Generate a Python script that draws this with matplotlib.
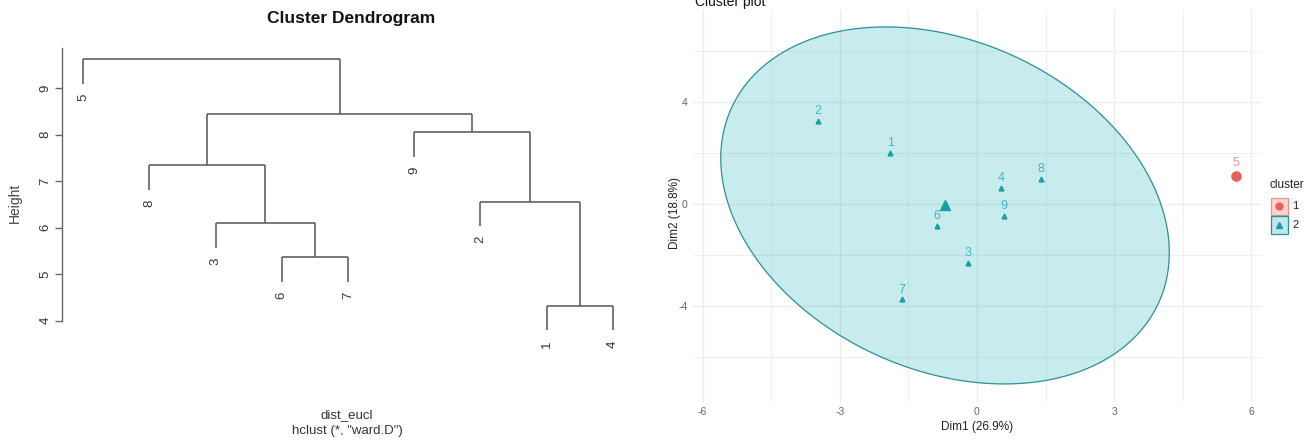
import numpy as np
import matplotlib
matplotlib.use("Agg")
import matplotlib.pyplot as plt
from matplotlib.patches import Rectangle, Polygon

plt.rcParams['font.family'] = ['Liberation Sans', 'DejaVu Sans']
plt.rcParams['axes.unicode_minus'] = False

# ---------------- data ----------------
# Dendrogram (hclust ward.D on dist_eucl)
leaf_order = ['5', '8', '3', '6', '7', '9', '2', '1', '4']
# merges: (left, right, height); str = leaf label, int = index of earlier merge
merge_left = ['1', '6', '3', '2', '8', '9', 4, '5']
merge_right = ['4', '7', 1, 0, 2, 3, 5, 6]
merge_height = [4.32, 5.37, 6.09, 6.56, 7.35, 8.05, 8.44, 9.62]
y_ticks = [4, 5, 6, 7, 8, 9]

# Cluster plot (PCA coordinates)
obs_labels = ['1', '2', '3', '4', '5', '6', '7', '8', '9']
dim1 = [-1.90, -3.47, -0.20, 0.52, 5.66, -0.87, -1.64, 1.39, 0.58]
dim2 = [2.01, 3.25, -2.30, 0.64, 1.10, -0.85, -3.73, 0.97, -0.46]
cluster = [2, 2, 2, 2, 1, 2, 2, 2, 2]
x_ticks = [-6, -3, 0, 3, 6]
y_ticks2 = [-4, 0, 4]

# ---------------- figure ----------------
W, H = 1311, 441
fig = plt.figure(figsize=(W / 100, H / 100), dpi=100)

def fx(px):
    return px / W

def fy(py):
    return 1 - py / H

# ---------- left: dendrogram ----------
axL = fig.add_axes([fx(62.3), fy(340), fx(640 - 62.3), (340 - 47.7) / H])
line_col = '#555555'
leaf_x = {lab: i + 1 for i, lab in enumerate(leaf_order)}
hang = 0.1 * (max(merge_height) - min(merge_height))
node_x = []

def child_pos(c):
    if isinstance(c, str):
        return leaf_x[c], None
    return node_x[c], merge_height[c]

for l, r, h in zip(merge_left, merge_right, merge_height):
    xl, hl = child_pos(l)
    xr, hr = child_pos(r)
    for xc, hc, c in ((xl, hl, l), (xr, hr, r)):
        if hc is None:
            bottom = h - hang
            axL.plot([xc, xc], [h, bottom], color=line_col, lw=1.1, solid_capstyle='butt')
            axL.annotate(c, (xc, bottom), xytext=(0, -7), textcoords='offset points',
                         rotation=90, ha='center', va='top', fontsize=9.5, color='#333333')
        else:
            axL.plot([xc, xc], [h, hc], color=line_col, lw=1.1, solid_capstyle='butt')
    axL.plot([xl, xr], [h, h], color=line_col, lw=1.1, solid_capstyle='butt')
    node_x.append((xl + xr) / 2)

axL.set_xlim(0.683, 9.41)
axL.set_ylim(3.585, 9.87)
for s in ('top', 'right', 'bottom'):
    axL.spines[s].set_visible(False)
axL.spines['left'].set_bounds(4, 9.87)
axL.spines['left'].set_color('#666666')
axL.spines['left'].set_linewidth(1.0)
axL.set_xticks([])
axL.set_yticks(y_ticks)
axL.set_yticklabels([str(t) for t in y_ticks], rotation=90, va='center', fontsize=9.5, color='#333333')
axL.tick_params(axis='y', length=5, width=1.0, color='#666666', pad=3)
axL.patch.set_alpha(0)

fig.text(fx(351), fy(18), 'Cluster Dendrogram', ha='center', va='center',
         fontsize=12.5, fontweight='bold', color='#111111')
fig.text(fx(15), fy(203), 'Height', rotation=90, ha='center', va='center',
         fontsize=10, color='#444444')
fig.text(fx(347), fy(415), 'dist_eucl', ha='center', va='center', fontsize=9.5, color='#333333')
fig.text(fx(347), fy(431), 'hclust (*, "ward.D")', ha='center', va='center', fontsize=9.5, color='#333333')

# ---------- right: cluster plot ----------
axR = fig.add_axes([fx(693), fy(401.7), fx(1261.7 - 693), (401.7 - 10) / H])
axR.set_xlim(-6.21, 6.226)
axR.set_ylim(-7.74, 7.59)
for s in axR.spines.values():
    s.set_visible(False)
grid_col = '#EDEDED'
for xv in np.arange(-6, 6.01, 1.5):
    axR.axvline(xv, color=grid_col, lw=1.0 if xv % 3 == 0 else 0.6, zorder=0)
for yv in np.arange(-6, 6.01, 2):
    axR.axhline(yv, color=grid_col, lw=1.0 if yv % 4 == 0 else 0.6, zorder=0)
axR.set_xticks(x_ticks)
axR.set_yticks(y_ticks2)
axR.tick_params(length=0, labelsize=7.5, labelcolor='#666666', pad=4)

dim1_a = np.array(dim1)
dim2_a = np.array(dim2)
cl_a = np.array(cluster)

teal_fill = '#05A9B3'
teal_edge = '#2A9098'
teal_pt = '#1A9FA6'
teal_lab = '#40B6BE'
red_pt = '#E8605A'
red_lab = '#F09390'

# 95% normal ellipse (stat_ellipse type="norm") for cluster 2
m2 = cl_a == 2
pts = np.column_stack([dim1_a[m2], dim2_a[m2]])
n = len(pts)
center = pts.mean(axis=0)
cov = np.cov(pts, rowvar=False)
dfd = n - 1
qf = dfd / 2 * (0.05 ** (-2 / dfd) - 1)  # F(2, n-1) quantile at 0.95
radius = np.sqrt(2 * qf)
t = np.linspace(0, 2 * np.pi, 200)
circ = np.column_stack([np.cos(t), np.sin(t)])
chol = np.linalg.cholesky(cov).T
ell = center + radius * circ @ chol
axR.add_patch(Polygon(ell, closed=True, facecolor=teal_fill, alpha=0.22, edgecolor='none', zorder=1))
axR.add_patch(Polygon(ell, closed=True, facecolor='none', edgecolor=teal_edge, lw=0.9, zorder=2))

for lab, xv, yv, c in zip(obs_labels, dim1, dim2, cluster):
    if c == 2:
        axR.plot(xv, yv, marker='^', ms=3.5, color=teal_pt, ls='none', zorder=3)
        axR.annotate(lab, (xv, yv), xytext=(0, 7), textcoords='offset points',
                     ha='center', va='center', fontsize=9, color=teal_lab, zorder=4)
    else:
        axR.plot(xv, yv, marker='o', ms=6, color=red_pt, ls='none', zorder=3)
        axR.annotate(lab, (xv, yv), xytext=(0, 9), textcoords='offset points',
                     ha='center', va='center', fontsize=9, color=red_lab, zorder=4)

# centroids
for c, mk, col, ms in ((1, 'o', red_pt, 6.5), (2, '^', teal_pt, 7.5)):
    m = cl_a == c
    axR.plot(dim1_a[m].mean(), dim2_a[m].mean(), marker=mk, ms=ms, color=col, ls='none', zorder=3)

fig.text(fx(976.7), fy(426.7), 'Dim1 (26.9%)', ha='center', va='center', fontsize=8.5, color='#222222')
fig.text(fx(675), fy(213), 'Dim2 (18.8%)', rotation=90, ha='center', va='center', fontsize=8.5, color='#222222')
fig.text(fx(695), fy(6), 'Cluster plot', ha='left', va='baseline', fontsize=10, color='#111111')

# ---------- legend ----------
axLeg = fig.add_axes([0, 0, 1, 1])
axLeg.set_xlim(0, W)
axLeg.set_ylim(H, 0)
axLeg.axis('off')
axLeg.patch.set_alpha(0)
axLeg.text(1287, 185, 'cluster', ha='center', va='center', fontsize=8.5, color='#222222')
leg_items = [('1', 'o', red_pt, '#F28E8A', '#F9D6D4', 197.5),
             ('2', '^', teal_pt, teal_edge, '#C2E7EA', 216.0)]
for lab, mk, col, ec, fc, y0 in leg_items:
    axLeg.add_patch(Rectangle((1270.5, y0), 17, 17.5, facecolor=fc, edgecolor=ec, lw=0.9))
    axLeg.plot(1279, y0 + 8.7, marker=mk, ms=5, color=col, ls='none')
    axLeg.text(1295.5, y0 + 8.7, lab, ha='center', va='center', fontsize=8, color='#222222')

fig.savefig('out.png', dpi=100)
